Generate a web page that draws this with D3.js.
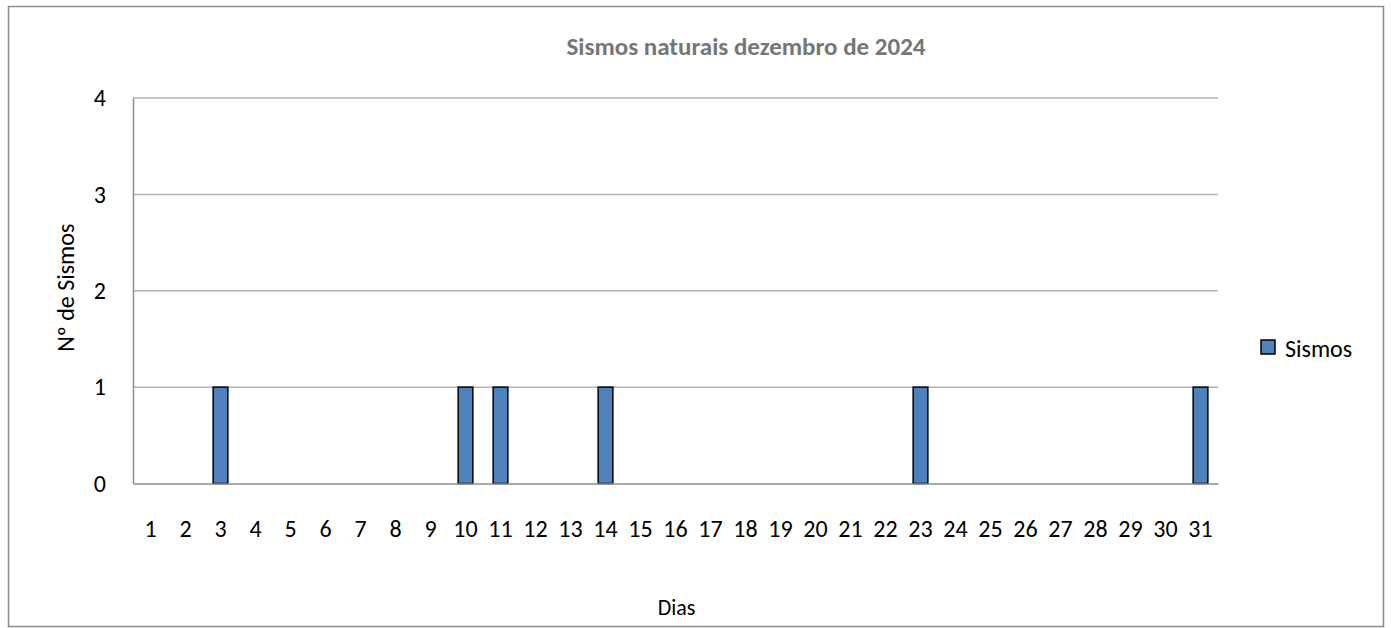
<!DOCTYPE html>
<html>
<head>
<meta charset="utf-8">
<script src="https://cdn.jsdelivr.net/npm/d3@7"></script>
<style>
  body { margin: 0; background: #fff; }
  svg text { font-family: Carlito, Calibri, "Open Sans", sans-serif; }
</style>
</head>
<body>
<svg id="chart" width="1391" height="628"></svg>
<script>
// days of December and the number of natural earthquakes on each
const DAYS = d3.range(1, 32).map(String);
const SISMOS = [0, 0, 1, 0, 0, 0, 0, 0, 0, 1, 1, 0, 0, 1, 0, 0, 0, 0, 0, 0, 0, 0, 1, 0, 0, 0, 0, 0, 0, 0, 1];
const Y_TICKS = [0, 1, 2, 3, 4];

const data = DAYS.map((d, i) => ({ day: d, value: SISMOS[i] }));

const config = {
  margin: { top: 98, left: 133 },
  width: 1085,
  height: 385.5,
};

const root = d3.select("#chart");

// outer chart frame
root
  .append("rect")
  .attr("x", 8.5)
  .attr("y", 6.5)
  .attr("width", 1375)
  .attr("height", 620)
  .attr("fill", "#fff")
  .attr("stroke", "#8c8c8c")
  .attr("stroke-width", 1.5);

// title
root
  .append("text")
  .attr("x", 746)
  .attr("y", 55)
  .attr("text-anchor", "middle")
  .attr("font-size", 25)
  .attr("font-weight", "bold")
  .attr("fill", "#767676")
  .text("Sismos naturais dezembro de 2024");

const svg = root
  .append("g")
  .attr("transform", `translate(${config.margin.left}, ${config.margin.top})`);

// day scale (x-axis)
const xScale = d3
  .scaleBand()
  .domain(DAYS)
  .range([0, config.width])
  .paddingInner(0.58)
  .paddingOuter(0.29);

// count scale (y-axis)
const yScale = d3.scaleLinear().domain([0, 4]).range([config.height, 0]);

// horizontal gridlines
svg
  .append("g")
  .attr("class", "grid")
  .selectAll("line")
  .data(Y_TICKS.filter((t) => t > 0))
  .join("line")
  .attr("x1", 0)
  .attr("x2", config.width)
  .attr("y1", (d) => yScale(d))
  .attr("y2", (d) => yScale(d))
  .attr("stroke", "#b3b3b3")
  .attr("stroke-width", 1.5);

// bars
svg
  .selectAll(".bar")
  .data(data.filter((d) => d.value > 0))
  .join("rect")
  .attr("class", "bar")
  .attr("x", (d) => xScale(d.day))
  .attr("y", (d) => yScale(d.value))
  .attr("width", xScale.bandwidth())
  .attr("height", (d) => yScale(0) - yScale(d.value))
  .attr("fill", "#4f81bd")
  .attr("stroke", "#000")
  .attr("stroke-width", 1.5);

// y axis
const yAxis = svg
  .append("g")
  .attr("class", "axis axis-y")
  .call(d3.axisLeft(yScale).tickValues(Y_TICKS).tickFormat(d3.format("d")).tickSize(0).tickPadding(27));
yAxis.select(".domain").attr("stroke", "#8c8c8c").attr("stroke-width", 1.5);
yAxis.selectAll("text").attr("font-size", 24).attr("fill", "#000");

// x axis
const xAxis = svg
  .append("g")
  .attr("class", "axis axis-x")
  .attr("transform", `translate(0, ${config.height})`)
  .call(d3.axisBottom(xScale).tickSize(0).tickPadding(36));
xAxis.select(".domain").attr("stroke", "#8c8c8c").attr("stroke-width", 1.5);
xAxis.selectAll("text").attr("font-size", 24).attr("fill", "#000");

// x-axis label
svg
  .append("text")
  .attr("text-anchor", "middle")
  .attr("x", config.width / 2 + 1)
  .attr("y", config.height + 131)
  .attr("font-size", 22)
  .text("Dias");

// y-axis label
svg
  .append("text")
  .attr("text-anchor", "middle")
  .attr("transform", "rotate(-90)")
  .attr("x", -(config.height / 2) + 3)
  .attr("y", -59)
  .attr("font-size", 24)
  .text("Nº de Sismos");

// legend
const legend = root.append("g").attr("transform", "translate(1261, 340)");
legend
  .append("rect")
  .attr("width", 14)
  .attr("height", 14)
  .attr("fill", "#4f81bd")
  .attr("stroke", "#000")
  .attr("stroke-width", 1.5);
legend
  .append("text")
  .attr("x", 24)
  .attr("y", 17)
  .attr("font-size", 24)
  .text("Sismos");
</script>
</body>
</html>
